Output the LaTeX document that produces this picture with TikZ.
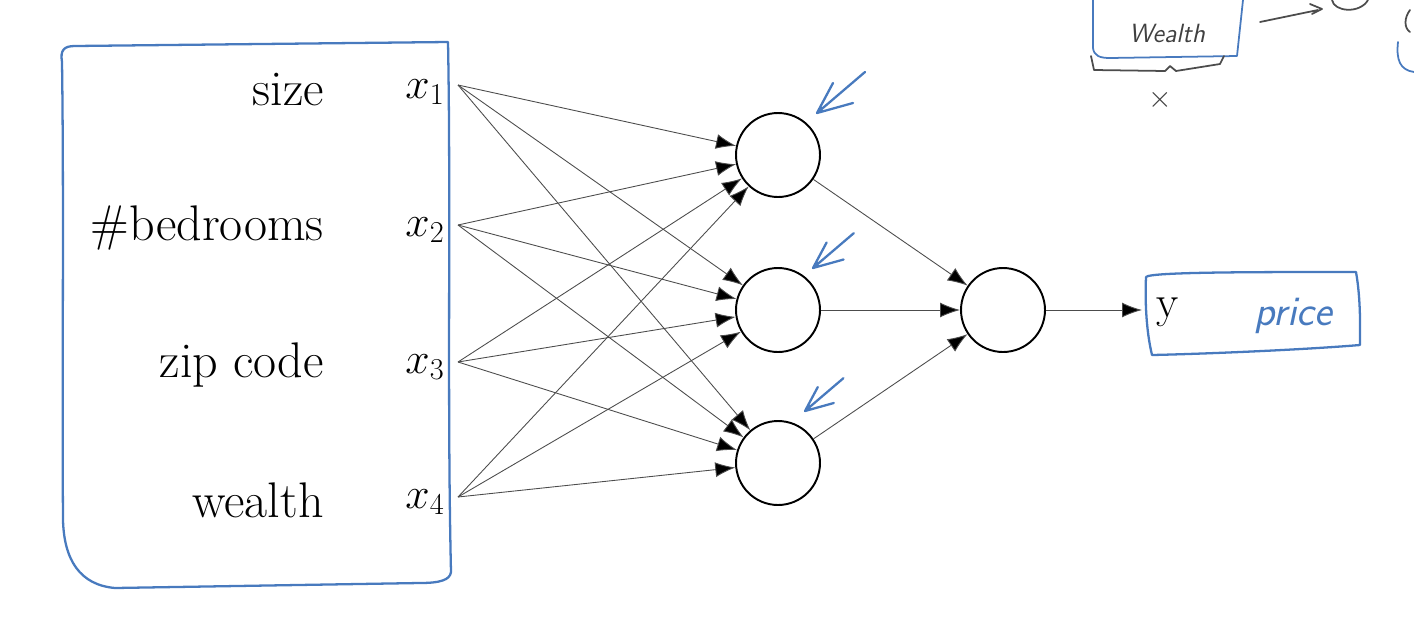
\documentclass[tikz,border=0pt]{standalone}
\usetikzlibrary{arrows.meta}
\definecolor{penblue}{RGB}{72,122,190}
\tikzset{
  neuron/.style={circle,draw,line width=1.1pt,minimum size=1.68cm,inner sep=0pt},
  conn/.style={draw=black!70,line width=0.5pt,-{Latex[length=0.4cm,width=0.3cm,fill=black]}},
  pen/.style={draw=penblue,line width=1.3pt,line cap=round,line join=round},
  pencil/.style={draw=black!70,line width=1pt,line cap=round,line join=round},
  feat/.style={anchor=east,font=\fontsize{28.5}{32}\selectfont},
  invar/.style={font=\fontsize{26}{30}\selectfont},
}
\begin{document}
\begin{tikzpicture}[x=0.02cm,y=-0.02cm]
\useasboundingbox (0,0) rectangle (1414,626);

% input features
\node[feat] (size) at (330,90) {size};
\node[feat] (beds) at (330,228) {\#bedrooms};
\node[feat] (zip) at (330,365) {zip code};
\node[feat] (wealth) at (330,500) {wealth};
\foreach \i/\y in {1/92,2/230,3/367,4/502}
  \node[invar] (x\i) at (425,\y) {$x_\i$};
\foreach \i/\y in {1/85,2/225,3/362,4/497}
  \coordinate (in\i) at (458,\y);

% hand drawn box round the inputs
\draw[pen] (62,62) .. controls (60,50) and (64,46) .. (75,46)
  -- (448,42) .. controls (451,200) and (447,400) .. (451,572)
  .. controls (450,580) and (440,583) .. (420,583)
  -- (115,588) .. controls (80,585) and (64,560) .. (63,520)
  .. controls (62,380) and (64,200) .. (62,62);

% hidden layer and output
\node[neuron] (h1) at (778,155) {};
\node[neuron] (h2) at (778,310) {};
\node[neuron] (h3) at (778,463) {};
\node[neuron] (out) at (1003,310) {};

\foreach \i in {1,...,4}
  \foreach \j in {1,2,3}
    \draw[conn] (in\i) -- (h\j);
\foreach \j in {1,2,3}
  \draw[conn] (h\j) -- (out);

% output
\node[invar,anchor=west] (y) at (1150,312) {y};
\coordinate (yin) at (1142,310);
\draw[conn] (out) -- (yin);
\draw[pen] (1146,277) .. controls (1150,272) and (1250,272) .. (1356,272)
  .. controls (1361,300) and (1360,330) .. (1360,345)
  .. controls (1300,350) and (1200,354) .. (1152,355)
  .. controls (1146,330) and (1145,300) .. (1146,277);
\node[text=penblue,font=\fontsize{24}{28}\selectfont\sffamily\itshape] (price) at (1293,316) {price};

% pen marks pointing at the hidden units
\foreach \dx/\dy/\s in {0/0/1,-4/155/0.85,-12/298/0.8}
  \draw[pen,shift={(\dx,\dy)}] (817,113) ++(48*\s,-41*\s) -- (817,113)
    ++(16*\s,-30*\s) -- (817,113) -- ++(36*\s,-10*\s);

% fragment of the earlier sketch, top right
\draw[pen,line width=1pt] (1093,0) -- (1093,48) .. controls (1094,56) and (1100,58) .. (1110,58)
  -- (1237,56) -- (1243,0);
\node[text=black!75,font=\fontsize{15}{17}\selectfont\sffamily\itshape] (old) at (1167,33) {Wealth};
\draw[pencil] (1091,56) -- (1094,70) -- (1165,71) -- (1170,66) -- (1176,71)
  -- (1220,64) -- (1224,56);
\node[text=black!75,font=\fontsize{16}{18}\selectfont] (oldx) at (1160,100) {$\times$};
\draw[pencil] (1260,22) -- (1318,10) (1310,4) -- (1322,9) -- (1312,14);
\draw[pencil] (1332,0) .. controls (1334,12) and (1360,14) .. (1368,0);
\draw[pencil] (1410,10) .. controls (1404,18) and (1404,28) .. (1410,32);
\draw[pen,line width=1pt] (1398,42) .. controls (1396,60) and (1400,70) .. (1414,72);
\end{tikzpicture}
\end{document}
